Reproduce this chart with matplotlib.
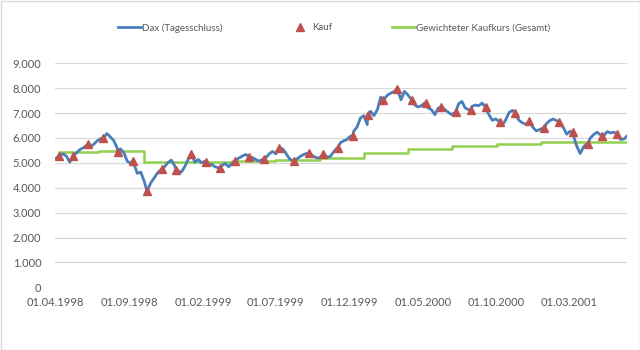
import matplotlib
matplotlib.use("Agg")
import matplotlib.pyplot as plt
import matplotlib.dates as mdates
import matplotlib.ticker as mticker
from matplotlib.lines import Line2D
from matplotlib.patches import Rectangle
import pandas as pd

# weekly DAX closes (Fridays), first week 03.04.1998
dax_start = "1998-04-03"
dax_close = [
    5187, 5307, 5360, 5267, 5027, 5293, 5400, 5533, 5600, 5707,
    5640, 5733, 5867, 5960, 6013, 6173, 6040, 5893, 5600, 5560,
    5400, 5067, 4973, 4933, 4573, 4627, 4267, 3907, 4200, 4400,
    4600, 4733, 4840, 5000, 5107, 4893, 4667, 4627, 4840, 5133,
    5360, 5027, 5133, 5000, 5067, 4893, 4933, 4840, 4800, 4893,
    4973, 4840, 4973, 5107, 5187, 5267, 5333, 5267, 5213, 5133,
    5067, 5133, 5200, 5360, 5453, 5360, 5600, 5560, 5373, 5160,
    5080, 5133, 5240, 5320, 5373, 5373, 5267, 5200, 5200, 5373,
    5240, 5240, 5427, 5587, 5800, 5880, 5933, 6067, 6267, 6440,
    6800, 6893, 6533, 7067, 6893, 7133, 7640, 7560, 7720, 7800,
    7867, 7907, 7533, 7867, 7733, 7560, 7333, 7240, 7293, 7400,
    7200, 7133, 6933, 7200, 7240, 7133, 7027, 6933, 7027, 7360,
    7467, 7200, 7133, 7267, 7320, 7293, 7400, 7200, 6933, 6707,
    6760, 6667, 6520, 6733, 7027, 7107, 6893, 6693, 6600, 6547,
    6653, 6427, 6280, 6333, 6400, 6573, 6693, 6760, 6693, 6573,
    6427, 6147, 6267, 6093, 5667, 5373, 5640, 5760, 6000, 6133,
    6227, 6120, 6093, 6253, 6200, 6227, 6133, 5933, 5960, 6093,
]

# monthly purchases on the 8th
kauf_start = "1998-04-08"
kauf_kurs = [
    5273, 5273, 5743, 5996, 5434, 5076, 3855, 4739, 4699, 5341,
    5020, 4779, 5072, 5221, 5165, 5582, 5060, 5382, 5353, 5606,
    6088, 6920, 7522, 7952, 7510, 7390, 7229, 7028, 7120, 7229,
    6651, 6988, 6667, 6386, 6627, 6225, 5743, 6064, 6157,
]

# weighted average purchase price, recalculated each quarter
quartal_start = [
    "1998-04-08", "1998-07-01", "1998-10-01", "1999-01-01", "1999-04-01",
    "1999-07-01", "1999-10-01", "2000-01-01", "2000-04-01", "2000-07-01",
    "2000-10-01", "2001-01-01", "2001-04-01",
]
kaufkurs_gewichtet = [
    5420, 5458, 5043, 5045, 5068, 5105, 5185, 5395, 5560, 5690,
    5775, 5820, 5825,
]

x_ticks = ["1998-04-01", "1998-09-01", "1999-02-01", "1999-07-01",
           "1999-12-01", "2000-05-01", "2000-10-01", "2001-03-01"]
x_end = "2001-06-28"
y_ticks = [0, 1000, 2000, 3000, 4000, 5000, 6000, 7000, 8000, 9000]

BLUE = "#4A7EBB"
RED = "#C0504D"
GREEN = "#92D050"
GRID = "#D9D9D9"
TEXT = "#595959"

plt.rcParams["font.family"] = ["Lato", "DejaVu Sans"]

dax = pd.Series(dax_close, index=pd.date_range(dax_start, periods=len(dax_close), freq="7D"))
kauf = pd.Series(kauf_kurs,
                 index=pd.date_range("1998-04-01", periods=len(kauf_kurs), freq="MS") + pd.Timedelta(days=7))
# the purchase prices are closes too, so they belong on the line
linie = pd.concat([dax, kauf]).sort_index()

gew_x = list(pd.to_datetime(quartal_start)) + [pd.Timestamp(x_end)]
gew_y = kaufkurs_gewichtet + [kaufkurs_gewichtet[-1]]

fig = plt.figure(figsize=(6.4, 3.5), dpi=100)
ax = fig.add_axes([55.3 / 640, 62.7 / 350, (627 - 55.3) / 640, (287.3 - 63.2) / 350])

ax.plot(linie.index, linie.values, color=BLUE, lw=2.0, zorder=3, solid_joinstyle="round")
ax.plot(kauf.index, kauf.values, ls="none", marker="^", ms=5.2, color=RED, zorder=4)
ax.plot(gew_x, gew_y, color=GREEN, lw=1.8, drawstyle="steps-post", zorder=2)

ax.set_ylim(0, 9000)
ax.set_xlim(pd.Timestamp("1998-04-01"), pd.Timestamp(x_end))
ax.set_yticks(y_ticks)
ax.yaxis.set_major_formatter(mticker.FuncFormatter(lambda v, p: f"{int(v):,}".replace(",", ".")))
ax.set_xticks(pd.to_datetime(x_ticks))
ax.xaxis.set_major_formatter(mdates.DateFormatter("%d.%m.%Y"))
ax.grid(axis="y", color=GRID, lw=0.9)
ax.set_axisbelow(True)
for s in ax.spines.values():
    s.set_visible(False)
ax.tick_params(length=0, labelsize=8, labelcolor=TEXT)
ax.tick_params(axis="y", pad=10)
ax.tick_params(axis="x", pad=7)

# legend entries spread across the top like the original sheet
eintraege = [
    (Line2D([], [], color=BLUE, lw=2.0), "Dax (Tagesschluss)", 118),
    (Line2D([], [], color=RED, marker="^", ls="none", ms=5.2), "Kauf", 288),
    (Line2D([], [], color=GREEN, lw=2.0), "Gewichteter Kaufkurs (Gesamt)", 392),
]
for handle, label, xpos in eintraege:
    fig.legend([handle], [label], loc="center left", bbox_to_anchor=(xpos / 640, 1 - 28 / 350),
               frameon=False, fontsize=7, handlelength=2.4, handletextpad=0.1,
               borderpad=0, borderaxespad=0, labelcolor=TEXT)

fig.patches.append(Rectangle((0.5 / 640, 0.5 / 350), 1 - 1 / 640, 1 - 1 / 350,
                             transform=fig.transFigure, fill=False, edgecolor=GRID, lw=1.0))

fig.savefig("out.png", dpi=100)
